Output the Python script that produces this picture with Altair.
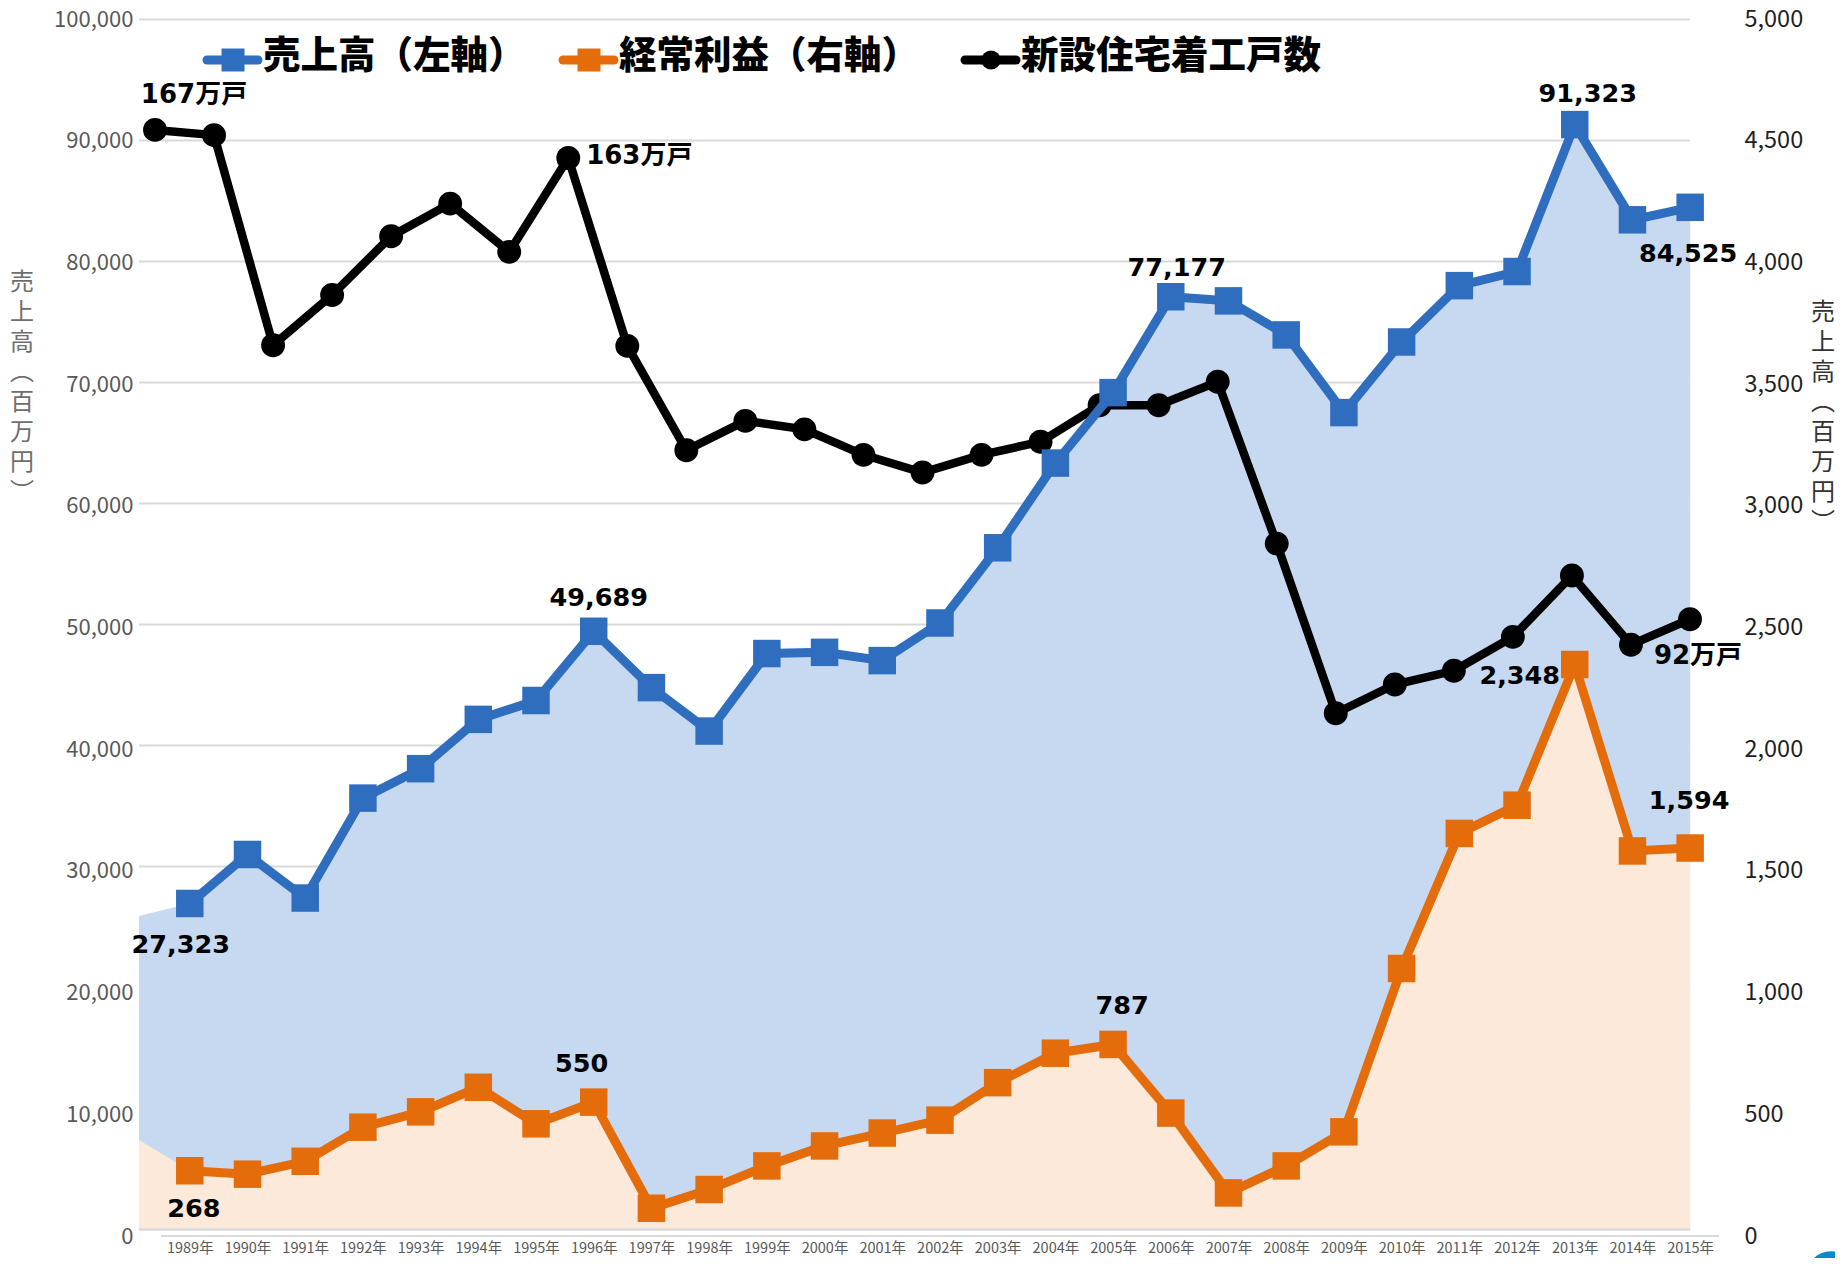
import altair as alt
import pandas as pd

years = list(range(1989, 2016))
sales = [27323, 31350, 27770, 35980, 38400, 42450, 44000, 49689, 45060, 41490, 47860, 47960, 47280, 50370,
         56550, 63510, 69300, 77177, 76840, 74040, 67660, 73460, 78090, 79250, 91323, 83500, 84525]
profit = [268, 254, 307, 447, 510, 611, 461, 550, 114, 191, 288, 370, 423, 476,
          630, 751, 787, 505, 177, 288, 428, 1099, 1654, 1770, 2348, 1582, 1594]
starts = [167, 166.2, 134, 141.7, 150.7, 155.7, 148.3, 162.7, 133.9, 117.9, 122.4, 121.1, 117.2, 114.5,
          117.2, 119.2, 124.8, 124.8, 128.4, 103.6, 77.6, 82, 84.1, 89.3, 98.7, 88.1, 92]

area_start_year = 1988.12
area_start_sales = 26294
area_start_profit = 394

left_ticks = [0, 10000, 20000, 30000, 40000, 50000, 60000, 70000, 80000, 90000, 100000]
right_ticks = [0, 500, 1000, 1500, 2000, 2500, 3000, 3500, 4000, 4500, 5000]

BLUE = "#2F6EBE"
ORANGE = "#E46C0A"
BLUE_AREA = "#C6D9F1"
PEACH = "#FDE9D9"
GRID = "#D9D9D9"
CJK = "Noto Sans CJK JP"
LABEL_FONT = "DejaVu Sans, Noto Sans CJK JP"

W, H = 1580, 1217
X_MAIN = alt.Scale(domain=[area_start_year, 2015.5], nice=False, zero=False)
X_BLACK = alt.Scale(domain=[1989, 2015], range=[16, 1551], nice=False, zero=False)
Y_LEFT = alt.Scale(domain=[0, 100000], nice=False)
Y_RIGHT = alt.Scale(domain=[0, 5000], nice=False)
Y_BLACK = alt.Scale(domain=[0, 184], range=[1200.5, 0], nice=False)
Y_GRID = alt.Scale(domain=[0, 100000], range=[1210.5, 0.5], nice=False)

df = pd.DataFrame({"year": years, "sales": sales, "profit": profit, "starts": starts})
area_df = pd.DataFrame({
    "year": [area_start_year] + years,
    "sales": [area_start_sales] + sales,
    "profit": [area_start_profit] + profit,
})
grid_df = pd.DataFrame({"v": left_ticks[1:], "x1": area_start_year, "x2": 2015})
base_df = pd.DataFrame({"v": [0], "x1": [area_start_year], "x2": [2015]})
axis_df = pd.DataFrame({"v": [0], "x1": [1988.5], "x2": [2015.5]})


def X(scale=X_MAIN, axis=None):
    return alt.X("year:Q", scale=scale, axis=axis, title=None)


def rules(frame, scale, width):
    return alt.Chart(frame).mark_rule(color=GRID, strokeWidth=width).encode(
        x=alt.X("x1:Q", scale=X_MAIN, axis=None),
        x2="x2:Q",
        y=alt.Y("v:Q", scale=scale, axis=None),
    )


grid = rules(grid_df, Y_GRID, 2.2)
baseline = rules(base_df, Y_GRID, 2.5)
x_axis_rule = rules(axis_df, Y_LEFT, 2.2)

blue_area = alt.Chart(area_df).mark_area(color=BLUE_AREA, opacity=1).encode(
    x=X(), y=alt.Y("sales:Q", scale=Y_LEFT, axis=None), y2=alt.datum(534)
)
peach_area = alt.Chart(area_df).mark_area(color=PEACH, opacity=1).encode(
    x=X(), y=alt.Y("profit:Q", scale=Y_RIGHT, axis=None), y2=alt.datum(26.7)
)

black_y = alt.Y("starts:Q", scale=Y_BLACK, axis=None)
black_line = alt.Chart(df).mark_line(color="#000000", strokeWidth=8.5).encode(x=X(X_BLACK), y=black_y)
black_pts = alt.Chart(df).mark_circle(color="#000000", size=570, opacity=1).encode(x=X(X_BLACK), y=black_y)

left_axis = alt.Axis(
    orient="left", values=left_ticks, format=",d", title=None, grid=False, domain=False, ticks=False,
    labelFont=CJK, labelFontSize=22, labelColor="#595959", labelPadding=6,
)
right_axis = alt.Axis(
    orient="right", values=right_ticks, format=",d", title=None, grid=False, domain=False, ticks=False,
    labelFont=CJK, labelFontSize=23.5, labelColor="#1F1F1F", labelPadding=25,
)
x_axis = alt.Axis(
    orient="bottom", values=years, labelExpr="datum.value + '年'", title=None, grid=False, domain=False,
    ticks=False, labelFont=CJK, labelFontSize=14.5, labelColor="#595959", labelPadding=5, labelOverlap=False,
    labelFlush=False,
)

blue_line = alt.Chart(df).mark_line(color=BLUE, strokeWidth=9).encode(
    x=X(axis=x_axis), y=alt.Y("sales:Q", scale=Y_LEFT, axis=left_axis)
)
blue_pts = alt.Chart(df).mark_square(color=BLUE, size=756, opacity=1).encode(
    x=X(), y=alt.Y("sales:Q", scale=Y_LEFT, axis=None)
)
orange_line = alt.Chart(df).mark_line(color=ORANGE, strokeWidth=9).encode(
    x=X(), y=alt.Y("profit:Q", scale=Y_RIGHT, axis=right_axis)
)
orange_pts = alt.Chart(df).mark_square(color=ORANGE, size=756, opacity=1).encode(
    x=X(), y=alt.Y("profit:Q", scale=Y_RIGHT, axis=None)
)

# series field, year, label, dx, dy, font size
notes = [
    ("sales", 1989, "27,323", -9, 41.5, 25.5),
    ("sales", 1996, "49,689", 5, -33, 25.5),
    ("sales", 2006, "77,177", 6, -29, 25.5),
    ("sales", 2013, "91,323", 13, -31, 25.5),
    ("sales", 2015, "84,525", -2, 47, 25.5),
    ("profit", 1989, "268", 4, 38, 25.5),
    ("profit", 1996, "550", -12, -38, 25.5),
    ("profit", 2005, "787", 9, -38, 25.5),
    ("profit", 2013, "2,348", -55, 12, 25.5),
    ("profit", 2015, "1,594", -1, -47, 25.5),
    ("starts", 1989, "167万戸", 39, -35, 26),
    ("starts", 1996, "163万戸", 71, -2, 26),
    ("starts", 2015, "92万戸", 8, 37, 26),
]
scales = {"sales": Y_LEFT, "profit": Y_RIGHT, "starts": Y_BLACK}
note_layers = []
for field, yr, label, dx, dy, fs in notes:
    row = df[df.year == yr]
    note_layers.append(
        alt.Chart(row).mark_text(
            text=label, font=LABEL_FONT, fontSize=fs, fontWeight="bold", color="#000000",
            dx=dx, dy=dy, align="center", baseline="middle",
        ).encode(
            x=X(X_BLACK if field == "starts" else X_MAIN),
            y=alt.Y(f"{field}:Q", scale=scales[field], axis=None),
        )
    )


def vtext(text, x, y, color):
    return alt.Chart(pd.DataFrame({"a": [0]})).mark_text(
        text=text, lineBreak="\n", lineHeight=30, font=CJK, fontSize=24, color=color,
        align="center", baseline="middle",
    ).encode(x=alt.value(x), y=alt.value(y))


left_title = vtext("売\n上\n高\n︵\n百\n万\n円\n︶", -117, 264, "#6E6E6E")
right_title = vtext("売\n上\n高\n︵\n百\n万\n円\n︶", 1684, 294, "#333333")


def legend_item(color, x1, x2, xm, shape, size, text, xt):
    one = pd.DataFrame({"a": [0]})
    line = alt.Chart(one).mark_rule(color=color, strokeWidth=9, strokeCap="round").encode(
        x=alt.value(x1), x2=alt.value(x2), y=alt.value(41)
    )
    mark = alt.Chart(one).mark_point(shape=shape, size=size, color=color, filled=True, opacity=1).encode(
        x=alt.value(xm), y=alt.value(41)
    )
    label = alt.Chart(one).mark_text(
        text=text, font=CJK, fontSize=37.5, fontWeight=900, color="#000000", align="left", baseline="middle",
    ).encode(x=alt.value(xt), y=alt.value(38))
    return [line, mark, label]


legend = (
    legend_item(BLUE, 68, 119, 94, "square", 529, "売上高（左軸）", 124)
    + legend_item(ORANGE, 424, 475, 450, "square", 529, "経常利益（右軸）", 480)
    + legend_item("#000000", 826, 877, 852, "circle", 370, "新設住宅着工戸数", 882)
)

corner = alt.Chart(pd.DataFrame({"a": [0]})).mark_circle(color="#0A8ACB", size=2463, opacity=1).encode(
    x=alt.value(1692), y=alt.value(1257)
)

layers = [
    grid, blue_area, peach_area, baseline, x_axis_rule,
    black_line, black_pts, blue_line, blue_pts, orange_line, orange_pts,
    *note_layers, left_title, right_title, *legend, corner,
]

chart = alt.layer(*layers).resolve_scale(x="independent", y="independent").properties(
    width=W, height=H,
    autosize=alt.AutoSizeParams(type="none"),
    padding={"left": 131, "top": 11, "right": 116, "bottom": 22},
).configure_view(stroke=None)

chart.save("out.html", embed_options={"renderer": "svg", "actions": False})
